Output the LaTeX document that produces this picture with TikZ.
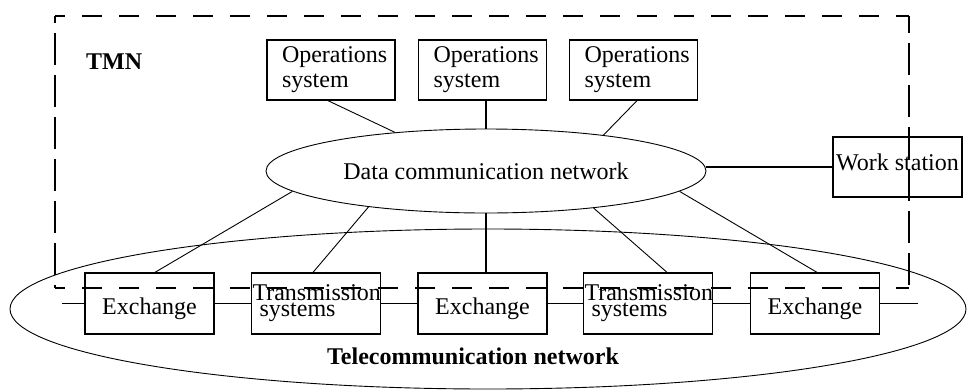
\documentclass[tikz,border=0pt]{standalone}
\usepackage{fontspec}
\setmainfont{Liberation Serif}
\usetikzlibrary{shapes.geometric,calc}

\begin{document}
\begin{tikzpicture}[x=1pt,y=-1pt,
  every node/.style={font=\fontsize{24}{25}\selectfont},
  box/.style={draw, line width=1.3pt, inner sep=0pt},
  osbox/.style={box, minimum width=128pt, minimum height=60pt,
    align=left, text width=98pt, inner xsep=15pt},
  exbox/.style={box, minimum width=129pt, minimum height=61pt,
    text height=22pt, text depth=0pt},
  trbox/.style={box, minimum width=129pt, minimum height=61pt,
    align=left, text width=127pt, inner xsep=1pt,
    font=\fontsize{24}{16}\selectfont},
  wsbox/.style={box, minimum width=129pt, minimum height=60pt,
    text height=16pt, text depth=10pt},
  cloud/.style={draw, ellipse, line width=0.9pt, inner sep=0pt},
  link/.style={line width=0.9pt},
  trunk/.style={line width=1.3pt},
  frameh/.style={line width=1.5pt, dash pattern=on 20pt off 17pt},
  framev/.style={line width=1.5pt, dash pattern=on 32pt off 10pt},
  heading/.style={font=\fontsize{24}{25}\selectfont\bfseries, inner sep=0pt}
]
\useasboundingbox (0,0) rectangle (967,389);

% telecommunication network (large ellipse) and its label
\node[cloud, minimum width=956pt, minimum height=160pt] (tn) at (488,309) {};
\node[heading] (tnlabel) at (473,356) {Telecommunication network};

% data communication network
\node[cloud, minimum width=440pt, minimum height=84pt] (dcn) at (486,171)
  {Data communication network};

% operations systems
\node[osbox] (os1) at (331,70) {Operations\\system};
\node[osbox] (os2) at (482.5,70) {Operations\\system};
\node[osbox] (os3) at (633.5,70) {Operations\\system};

% work station
\node[wsbox] (ws) at (897.5,167) {Work station};

% exchanges and transmission systems
\node[exbox] (x1) at (149.5,303.5) {Exchange};
\node[trbox] (x2) at (316,303.5) {Transmission\\\hspace*{7pt}systems};
\node[exbox] (x3) at (482.5,303.5) {Exchange};
\node[trbox] (x4) at (648,303.5) {Transmission\\\hspace*{7pt}systems};
\node[exbox] (x5) at (815,303.5) {Exchange};

% TMN label
\node[heading, anchor=base west] (tmn) at (86,69) {TMN};

% chain through the telecommunication network
\coordinate (nl) at (62,303.5);
\coordinate (nr) at (918,303.5);
\draw[trunk] (nl) -- (x1.west);
\draw[trunk] (x1.east) -- (x2.west);
\draw[trunk] (x2.east) -- (x3.west);
\draw[trunk] (x3.east) -- (x4.west);
\draw[trunk] (x4.east) -- (x5.west);
\draw[trunk] (x5.east) -- (nr);

% operations systems to the DCN
\draw[link] ([xshift=-3pt]os1.south) -- (dcn.157.3);
\draw[trunk] (os2.south -| dcn.north) -- (dcn.north);
\draw[link] ([xshift=3.5pt]os3.south) -- (dcn.17.8);

% work station to the DCN
\draw[trunk] (ws.west) -- (ws.west -| dcn.east);

% DCN to the network elements
\draw[link] ([xshift=5.5pt]x1.north) -- (dcn.186);
\draw[link] ([xshift=-3pt]x2.north) -- (dcn.197);
\draw[trunk] (x3.north -| dcn.south) -- (dcn.south);
\draw[link] ([xshift=19pt]x4.north) -- (dcn.341.7);
\draw[link] ([xshift=2pt]x5.north) -- (dcn.354.5);

% dashed TMN boundary
\coordinate (fa) at (55,16);
\coordinate (fb) at (909,16);
\coordinate (fc) at (909,288);
\coordinate (fd) at (55,288);
\draw[frameh, dash phase=10pt] (fa) -- (fb);
\draw[frameh, dash phase=10pt] (fd) -- (fc);
\draw[framev, dash phase=25pt] (fa) -- (fd);
\draw[framev, dash phase=15pt] (fb) -- (fc);
\end{tikzpicture}
\end{document}
